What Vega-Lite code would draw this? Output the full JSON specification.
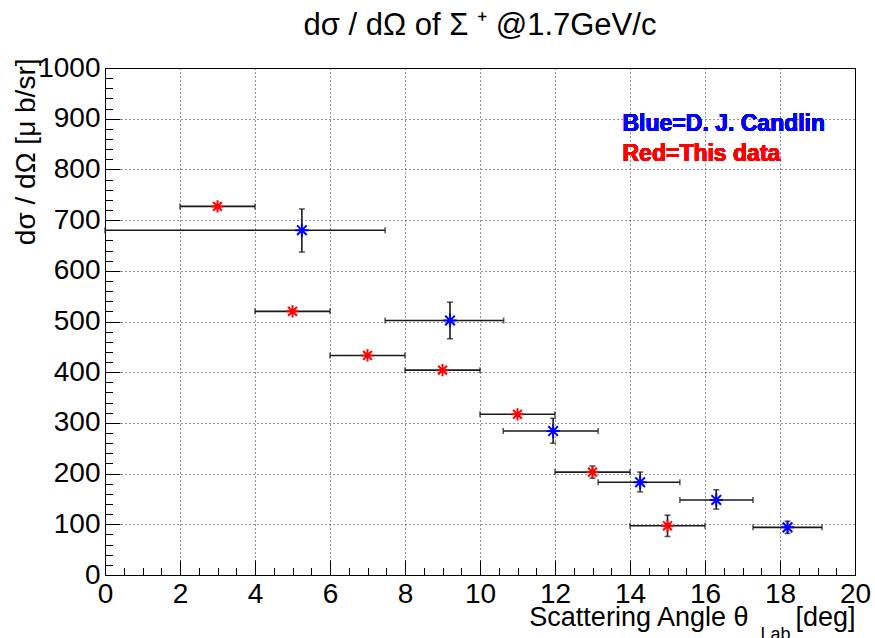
{
  "$schema": "https://vega.github.io/schema/vega-lite/v6.json",
  "width": 750,
  "height": 507,
  "autosize": "none",
  "padding": {"left": 105, "top": 68, "right": 20, "bottom": 63},
  "background": "#ffffff",
  "title": {
    "text": "dσ / dΩ of Σ ⁺ @1.7GeV/c",
    "font": "Liberation Sans",
    "fontSize": 31,
    "fontWeight": "normal",
    "color": "#000000",
    "anchor": "middle",
    "frame": "group",
    "offset": 12
  },
  "config": {
    "view": {"stroke": "#000000", "strokeWidth": 1},
    "axis": {
      "labelFont": "Liberation Sans",
      "titleFont": "Liberation Sans",
      "labelColor": "#000000",
      "titleColor": "#000000",
      "titleFontWeight": "normal",
      "domainColor": "#000000",
      "tickColor": "#000000",
      "labelFlush": false,
      "labelOverlap": false,
      "format": "d"
    }
  },
  "data": {
    "values": [
      {"set": "red", "angle": 3.0, "xlo": 2.0, "xhi": 4.0, "sigma": 727, "ylo": 724, "yhi": 730},
      {"set": "red", "angle": 5.0, "xlo": 4.0, "xhi": 6.0, "sigma": 520, "ylo": 517, "yhi": 523},
      {"set": "red", "angle": 7.0, "xlo": 6.0, "xhi": 8.0, "sigma": 433, "ylo": 430, "yhi": 436},
      {"set": "red", "angle": 9.0, "xlo": 8.0, "xhi": 10.0, "sigma": 404, "ylo": 401, "yhi": 407},
      {"set": "red", "angle": 11.0, "xlo": 10.0, "xhi": 12.0, "sigma": 317, "ylo": 314, "yhi": 320},
      {"set": "red", "angle": 13.0, "xlo": 12.0, "xhi": 14.0, "sigma": 203, "ylo": 191, "yhi": 215},
      {"set": "red", "angle": 15.0, "xlo": 14.0, "xhi": 16.0, "sigma": 97, "ylo": 76, "yhi": 118},
      {"set": "blue", "angle": 5.25, "xlo": 0.0, "xhi": 7.47, "sigma": 680, "ylo": 637, "yhi": 722},
      {"set": "blue", "angle": 9.2, "xlo": 7.47, "xhi": 10.63, "sigma": 502, "ylo": 466, "yhi": 538},
      {"set": "blue", "angle": 11.95, "xlo": 10.62, "xhi": 13.15, "sigma": 284, "ylo": 260, "yhi": 309},
      {"set": "blue", "angle": 14.27, "xlo": 13.15, "xhi": 15.33, "sigma": 183, "ylo": 164, "yhi": 203},
      {"set": "blue", "angle": 16.3, "xlo": 15.33, "xhi": 17.28, "sigma": 148, "ylo": 130, "yhi": 168},
      {"set": "blue", "angle": 18.2, "xlo": 17.28, "xhi": 19.12, "sigma": 94, "ylo": 82, "yhi": 106}
    ]
  },
  "resolve": {"axis": {"x": "independent", "y": "independent"}},
  "layer": [
    {
      "mark": {"type": "rule", "color": "#1a1a1a", "strokeWidth": 1.6},
      "encoding": {
        "x": {
          "field": "xlo", "type": "quantitative",
          "scale": {"domain": [0, 20], "nice": false, "zero": false},
          "axis": {
            "orient": "bottom",
            "values": [0, 2, 4, 6, 8, 10, 12, 14, 16, 18, 20],
            "tickSize": -15,
            "labelPadding": 20,
            "labelFontSize": 28,
            "grid": true,
            "gridColor": "#000000",
            "gridDash": [1, 3],
            "gridOpacity": 0.85,
            "title": "Scattering Angle θ",
            "titleFontSize": 27,
            "titleAlign": "right",
            "titleAnchor": null,
            "titleBaseline": "alphabetic",
            "titleX": 643,
            "titleY": 50
          }
        },
        "x2": {"field": "xhi"},
        "y": {
          "field": "sigma", "type": "quantitative",
          "scale": {"domain": [0, 1000], "nice": false, "zero": false},
          "axis": {
            "orient": "left",
            "values": [0, 100, 200, 300, 400, 500, 600, 700, 800, 900, 1000],
            "tickSize": -15,
            "labelPadding": 20,
            "labelFontSize": 28,
            "grid": true,
            "gridColor": "#000000",
            "gridDash": [1, 3],
            "gridOpacity": 0.85,
            "title": "dσ / dΩ [μ b/sr]",
            "titleFontSize": 28,
            "titleAngle": 270,
            "titleAlign": "right",
            "titleAnchor": null,
            "titleBaseline": "middle",
            "titleX": -79,
            "titleY": -10
          }
        }
      }
    },
    {
      "mark": {"type": "rule", "color": "#1a1a1a", "strokeWidth": 1.6},
      "encoding": {
        "x": {
          "field": "angle", "type": "quantitative",
          "axis": {
            "orient": "bottom",
            "values": [0.5, 1, 1.5, 2.5, 3, 3.5, 4.5, 5, 5.5, 6.5, 7, 7.5, 8.5, 9, 9.5, 10.5, 11, 11.5, 12.5, 13, 13.5, 14.5, 15, 15.5, 16.5, 17, 17.5, 18.5, 19, 19.5],
            "tickSize": -7.5,
            "labels": false,
            "domain": false,
            "grid": false,
            "title": "Lab",
            "titleFontSize": 18,
            "titleAlign": "left",
            "titleAnchor": null,
            "titleBaseline": "alphabetic",
            "titleX": 655,
            "titleY": 64
          }
        },
        "y": {
          "field": "ylo", "type": "quantitative",
          "axis": {
            "orient": "left",
            "values": [20, 40, 60, 80, 120, 140, 160, 180, 220, 240, 260, 280, 320, 340, 360, 380, 420, 440, 460, 480, 520, 540, 560, 580, 620, 640, 660, 680, 720, 740, 760, 780, 820, 840, 860, 880, 920, 940, 960, 980],
            "tickSize": -7.5,
            "labels": false,
            "domain": false,
            "grid": false,
            "title": null
          }
        },
        "y2": {"field": "yhi"}
      }
    },
    {
      "mark": {"type": "tick", "orient": "vertical", "color": "#1a1a1a", "size": 6, "thickness": 1.6},
      "encoding": {
        "x": {
          "field": "xlo", "type": "quantitative",
          "axis": {
            "orient": "bottom",
            "ticks": false,
            "labels": false,
            "domain": false,
            "grid": false,
            "title": "[deg]",
            "titleFontSize": 27,
            "titleAlign": "right",
            "titleAnchor": null,
            "titleBaseline": "alphabetic",
            "titleX": 750,
            "titleY": 50
          }
        },
        "y": {"field": "sigma", "type": "quantitative", "axis": null}
      }
    },
    {
      "mark": {"type": "tick", "orient": "vertical", "color": "#1a1a1a", "size": 6, "thickness": 1.6},
      "encoding": {
        "x": {"field": "xhi", "type": "quantitative", "axis": null},
        "y": {"field": "sigma", "type": "quantitative", "axis": null}
      }
    },
    {
      "mark": {"type": "tick", "orient": "horizontal", "color": "#1a1a1a", "size": 6, "thickness": 1.6},
      "transform": [{"filter": "datum.set === 'blue' || datum.yhi - datum.ylo > 10"}],
      "encoding": {
        "x": {"field": "angle", "type": "quantitative", "axis": null},
        "y": {"field": "ylo", "type": "quantitative", "axis": null}
      }
    },
    {
      "mark": {"type": "tick", "orient": "horizontal", "color": "#1a1a1a", "size": 6, "thickness": 1.6},
      "transform": [{"filter": "datum.set === 'blue' || datum.yhi - datum.ylo > 10"}],
      "encoding": {
        "x": {"field": "angle", "type": "quantitative", "axis": null},
        "y": {"field": "yhi", "type": "quantitative", "axis": null}
      }
    },
    {
      "mark": {
        "type": "point",
        "shape": "M-1,0L1,0M0,-1L0,1M-0.72,-0.72L0.72,0.72M-0.72,0.72L0.72,-0.72",
        "filled": false,
        "strokeWidth": 2,
        "opacity": 1
      },
      "encoding": {
        "x": {"field": "angle", "type": "quantitative", "axis": null},
        "y": {"field": "sigma", "type": "quantitative", "axis": null},
        "color": {
          "field": "set", "type": "nominal",
          "scale": {"domain": ["blue", "red"], "range": ["#0000ff", "#ff0000"]},
          "legend": null
        },
        "size": {
          "field": "set", "type": "nominal",
          "scale": {"domain": ["blue", "red"], "range": [180, 150]},
          "legend": null
        }
      }
    },
    {
      "mark": {"type": "text", "text": "Blue=D. J. Candlin", "font": "Liberation Sans", "fontWeight": "bold", "fontSize": 23, "color": "#0000ff", "align": "left", "baseline": "middle"},
      "encoding": {
        "x": {"datum": 13.8, "type": "quantitative", "axis": null},
        "y": {"datum": 890, "type": "quantitative", "axis": null}
      }
    },
    {
      "mark": {"type": "text", "text": "Red=This data", "font": "Liberation Sans", "fontWeight": "bold", "fontSize": 23, "color": "#ff0000", "align": "left", "baseline": "middle"},
      "encoding": {
        "x": {"datum": 13.8, "type": "quantitative", "axis": null},
        "y": {"datum": 830, "type": "quantitative", "axis": null}
      }
    }
  ]
}
